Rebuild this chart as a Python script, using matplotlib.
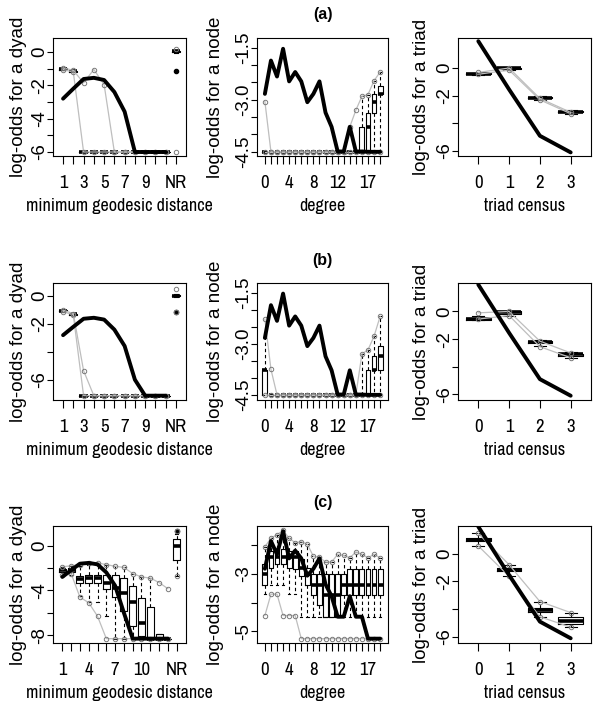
import numpy as np
import matplotlib
matplotlib.use('Agg')
import matplotlib.pyplot as plt

W, H = 598, 707
NARROW = ['Liberation Sans Narrow', 'Archivo Narrow', 'Liberation Sans', 'DejaVu Sans']
REGULAR = ['Liberation Sans', 'DejaVu Sans']
nan = np.nan

# observed network, same in all three rows (nan = log-odds of -Inf, drawn at the panel floor)
obs_dist = [-2.8, -2.2, -1.62, -1.55, -1.68, -2.4, -3.58, -6.0, nan, nan, nan]
obs_dist_c = [-2.8, -2.2, -1.62, -1.55, -1.68, -2.4, -3.58, -6.0, nan, nan, nan, nan, nan]
obs_degree = [-2.83, -1.87, -2.33, -1.53, -2.47, -2.20, -2.47, -3.07, -2.83, -2.47,
              -3.37, -3.78, -4.49, -4.49, -3.78, -4.49, -4.49, nan, nan, nan]
obs_triad = [1.94, -1.55, -4.9, -6.1]

dist_floor = [-6.0, -7.15, -8.3]
deg_floor = [-4.5, -4.5, -5.25]

dist_labels_ab = ['1', '', '3', '', '5', '', '7', '', '9', '', '', 'NR']
dist_labels_c = ['1', '', '', '4', '', '', '7', '', '', '10', '', '', '', 'NR']
deg_labels = ['0', '', '', '', '4', '', '', '', '8', '', '', '', '12', '', '', '', '', '17', '', '']
triad_labels = ['0', '1', '2', '3']

# simulated boxes: (lower whisker, q1, median, q3, upper whisker)
# ---- row (a)
a_dist_box = [(-1.05, -1.05, -1.0, -0.97, -0.95), (-1.2, -1.18, -1.15, -1.12, -1.1),
              (-6, -6, -6, -6, -6), (-6, -6, -6, -6, -6), (-6, -6, -6, -6, -6),
              (-6, -6, -6, -6, -6), (-6, -6, -6, -6, -6), (-6, -6, -6, -6, -6),
              (-6, -6, -6, -6, -6), (-6, -6, -6, -6, -6), (-6, -6, -6, -6, -6),
              (-0.05, 0.0, 0.05, 0.08, 0.12)]
a_dist_fliers = {12: [-1.15]}
a_dist_lo = [-1.05, -1.2, -6, -6, -6, -6, -6, -6, -6, -6, -6, -6]
a_dist_hi = [-0.95, -1.1, -1.85, -1.05, -1.95, -6, -6, -6, -6, -6, -6, 0.2]

a_deg_box = [
    (-4.5, -4.5, -4.5, -4.5, -4.5), (-4.5, -4.5, -4.5, -4.5, -4.5), (-4.5, -4.5, -4.5, -4.5, -4.5),
    (-4.5, -4.5, -4.5, -4.5, -4.5), (-4.5, -4.5, -4.5, -4.5, -4.5), (-4.5, -4.5, -4.5, -4.5, -4.5),
    (-4.5, -4.5, -4.5, -4.5, -4.5), (-4.5, -4.5, -4.5, -4.5, -4.5), (-4.5, -4.5, -4.5, -4.5, -4.5),
    (-4.5, -4.5, -4.5, -4.5, -4.5), (-4.5, -4.5, -4.5, -4.5, -4.5), (-4.5, -4.5, -4.5, -4.5, -4.5),
    (-4.5, -4.5, -4.5, -4.5, -4.5), (-4.5, -4.5, -4.5, -4.5, -4.5), (-4.5, -4.5, -4.5, -4.5, -4.5),
    (-4.5, -4.5, -4.5, -4.5, -4.5), (-4.5, -4.5, -4.5, -3.78, -2.9), (-4.5, -4.5, -3.78, -3.37, -2.85),
    (-4.5, -3.37, -3.07, -2.83, -2.45), (-4.5, -2.83, -2.83, -2.6, -2.2)]
a_deg_lo = [-4.5, -4.5, -4.5, -4.5, -4.5, -4.5, -4.5, -4.5, -4.5, -4.5,
            -4.5, -4.5, -4.5, -4.5, -4.5, -4.5, -4.5, -4.5, -4.5, -4.5]
a_deg_hi = [-3.05, -4.5, -4.5, -4.5, -4.5, -4.5, -4.5, -4.5, -4.5, -4.5,
            -4.5, -4.5, -4.5, -4.5, -3.78, -3.3, -2.9, -2.85, -2.45, -2.2]

a_tri_box = [(-0.5, -0.45, -0.42, -0.38, -0.35), (-0.15, -0.05, 0.0, 0.02, 0.05),
             (-2.3, -2.2, -2.15, -2.12, -2.05), (-3.3, -3.2, -3.15, -3.1, -3.05)]
a_tri_lo = [-0.45, -0.15, -2.3, -3.3]
a_tri_hi = [-0.32, 0.0, -2.2, -3.2]

# ---- row (b)
b_dist_box = [(-1.1, -1.08, -1.05, -1.02, -1.0), (-1.35, -1.32, -1.3, -1.28, -1.25),
              (-7.15, -7.15, -7.15, -7.15, -7.15), (-7.15, -7.15, -7.15, -7.15, -7.15),
              (-7.15, -7.15, -7.15, -7.15, -7.15), (-7.15, -7.15, -7.15, -7.15, -7.15),
              (-7.15, -7.15, -7.15, -7.15, -7.15), (-7.15, -7.15, -7.15, -7.15, -7.15),
              (-7.15, -7.15, -7.15, -7.15, -7.15), (-7.15, -7.15, -7.15, -7.15, -7.15),
              (-7.15, -7.15, -7.15, -7.15, -7.15), (-0.05, 0.0, 0.05, 0.1, 0.15)]
b_dist_fliers = {12: [-1.15]}
b_dist_lo = [-1.1, -1.35, -7.15, -7.15, -7.15, -7.15, -7.15, -7.15, -7.15, -7.15, -7.15, -1.15]
b_dist_hi = [-1.0, -1.25, -5.35, -7.15, -7.15, -7.15, -7.15, -7.15, -7.15, -7.15, -7.15, 0.55]

b_deg_box = [
    (-4.5, -4.5, -3.78, -3.78, -2.83), (-4.5, -4.5, -4.5, -4.5, -4.5), (-4.5, -4.5, -4.5, -4.5, -4.5),
    (-4.5, -4.5, -4.5, -4.5, -4.5), (-4.5, -4.5, -4.5, -4.5, -4.5), (-4.5, -4.5, -4.5, -4.5, -4.5),
    (-4.5, -4.5, -4.5, -4.5, -4.5), (-4.5, -4.5, -4.5, -4.5, -4.5), (-4.5, -4.5, -4.5, -4.5, -4.5),
    (-4.5, -4.5, -4.5, -4.5, -4.5), (-4.5, -4.5, -4.5, -4.5, -4.5), (-4.5, -4.5, -4.5, -4.5, -4.5),
    (-4.5, -4.5, -4.5, -4.5, -4.5), (-4.5, -4.5, -4.5, -4.5, -4.5), (-4.5, -4.5, -4.5, -4.5, -4.5),
    (-4.5, -4.5, -4.5, -4.5, -4.5), (-4.5, -4.5, -4.5, -4.5, -3.3), (-4.5, -4.5, -4.5, -3.78, -3.18),
    (-4.5, -3.78, -3.78, -3.37, -2.78), (-4.5, -3.78, -3.37, -3.07, -2.2)]
b_deg_lo = [-4.5, -4.5, -4.5, -4.5, -4.5, -4.5, -4.5, -4.5, -4.5, -4.5,
            -4.5, -4.5, -4.5, -4.5, -4.5, -4.5, -4.5, -4.5, -4.5, -4.5]
b_deg_hi = [-2.28, -3.75, -4.5, -4.5, -4.5, -4.5, -4.5, -4.5, -4.5, -4.5,
            -4.5, -4.5, -4.5, -4.5, -4.5, -4.5, -3.3, -3.18, -2.78, -2.2]

b_tri_box = [(-0.65, -0.6, -0.55, -0.5, -0.3), (-0.3, -0.15, -0.05, 0.0, 0.05),
             (-2.5, -2.3, -2.2, -2.15, -2.05), (-3.35, -3.2, -3.1, -3.05, -2.95)]
b_tri_lo = [-0.55, -0.3, -2.55, -3.35]
b_tri_hi = [-0.1, 0.0, -2.15, -3.0]

# ---- row (c)
c_dist_box = [(-2.7, -2.4, -2.2, -2.05, -1.9), (-2.6, -2.35, -2.2, -2.0, -1.8),
              (-4.5, -3.3, -3.0, -2.7, -1.8), (-5.0, -3.3, -2.9, -2.65, -1.7),
              (-5.0, -3.3, -2.9, -2.6, -1.6), (-6.3, -3.9, -3.3, -2.65, -1.7),
              (-8.3, -4.6, -3.8, -2.6, -1.85), (-8.3, -5.8, -4.2, -2.9, -1.95),
              (-8.3, -7.2, -5.0, -3.6, -2.5), (-8.3, -8.1, -6.9, -4.7, -2.8),
              (-8.3, -8.3, -8.3, -5.5, -2.9), (-8.3, -8.3, -8.3, -7.9, -7.9),
              (-8.3, -8.3, -8.3, -8.3, -8.3), (-2.7, -1.3, 0.0, 0.6, 1.0)]
c_dist_fliers = {14: [1.3]}
c_dist_lo = [-2.6, -2.5, -4.6, -5.1, -6.3, -8.3, -8.3, -8.3, -8.3, -8.3, -8.3, -8.3, -8.3, -2.7]
c_dist_hi = [-1.9, -1.8, -1.7, -1.6, -1.55, -1.7, -1.85, -1.95, -2.5, -2.8, -2.9, -3.3, -3.85, 1.3]

c_deg_box = [
    (-3.7, -3.38, -3.0, -2.67, -2.07), (-3.38, -2.8, -2.43, -2.2, -1.77), (-3.38, -2.67, -2.43, -2.13, -1.65),
    (-3.38, -2.67, -2.43, -2.13, -1.5), (-3.7, -2.8, -2.43, -2.2, -1.77), (-3.7, -2.85, -2.43, -2.2, -1.93),
    (-4.5, -3.08, -2.79, -2.5, -1.89), (-4.5, -3.38, -3.0, -2.79, -1.98), (-4.5, -3.74, -3.38, -3.0, -2.4),
    (-4.5, -4.1, -3.38, -3.0, -2.43), (-4.5, -4.49, -3.74, -3.0, -2.6), (-4.5, -4.49, -3.74, -3.0, -2.6),
    (-4.5, -4.49, -3.74, -3.0, -2.33), (-4.5, -3.74, -3.38, -3.0, -2.37), (-4.5, -3.74, -3.38, -2.85, -2.45),
    (-4.5, -3.74, -3.38, -2.85, -2.25), (-4.5, -3.74, -3.38, -2.85, -2.33), (-4.5, -3.74, -3.38, -2.85, -2.45),
    (-4.5, -3.74, -3.38, -2.85, -2.33), (-4.5, -3.74, -3.38, -2.85, -2.45)]
c_deg_lo = [-4.45, -3.71, -3.71, -4.45, -4.45, -4.45, -5.25, -5.25, -5.25, -5.25,
            -5.25, -5.25, -5.25, -5.25, -5.25, -5.25, -5.25, -5.25, -5.25, -5.25]
c_deg_hi = [-2.07, -1.77, -1.65, -1.5, -1.77, -1.93, -1.89, -1.98, -2.4, -2.43,
            -2.6, -2.6, -2.33, -2.37, -2.45, -2.25, -2.33, -2.45, -2.33, -2.45]

c_tri_box = [(0.55, 0.9, 1.0, 1.12, 1.45), (-1.64, -1.25, -1.16, -1.05, -0.8),
             (-4.55, -4.2, -4.07, -3.9, -3.45), (-5.3, -5.05, -4.85, -4.6, -4.25)]
c_tri_lo = [0.55, -1.64, -4.55, -5.3]
c_tri_hi = [1.45, -0.8, -3.45, -4.25]


def draw(ax, x, boxes, lo, hi, obs, floor=None, fliers=None, nline=None):
    fliers = fliers or {}
    stats = []
    for xi, (w0, q1, md, q3, w1) in zip(x, boxes):
        stats.append(dict(whislo=w0, q1=q1, med=md, q3=q3, whishi=w1, fliers=fliers.get(xi, [])))
    ax.bxp(stats, positions=x, widths=0.8, capwidths=0.4, manage_ticks=False,
           boxprops=dict(color='k', lw=0.8),
           medianprops=dict(color='k', lw=2.6, solid_capstyle='butt'),
           whiskerprops=dict(color='k', lw=0.8, ls=(0, (3, 2.5))),
           capprops=dict(color='k', lw=0.8),
           flierprops=dict(marker='o', ms=3, mfc='k', mec='k'))
    n = nline or len(x)
    for bound in (lo, hi):
        ax.plot(x[:n], bound[:n], color='#bebebe', lw=0.9, zorder=3)
        ax.plot(x, bound, 'o', ms=3.2, mfc='none', mec='#7a7a7a', mew=0.7, zorder=3)
    y = np.array(obs, dtype=float)
    if floor is not None:
        y = np.where(np.isnan(y), floor, y)
    ax.plot(x[:len(y)], y, color='k', lw=2.8, solid_joinstyle='round', solid_capstyle='round', zorder=4)


def style(ax, x, xlabels, yticks, ylabels, ylim):
    n = len(x)
    ax.set_xlim(x[0] - 0.5 - 0.04 * n, x[-1] + 0.5 + 0.04 * n)
    ax.set_ylim(ylim)
    ax.set_xticks(x)
    ax.set_xticklabels(xlabels, fontfamily=NARROW, fontsize=13.5)
    ax.set_yticks(yticks)
    ax.set_yticklabels(ylabels, rotation=90, va='center', fontfamily=REGULAR, fontsize=13.5)
    ax.tick_params(axis='x', length=5.4, width=0.8, pad=8, direction='out')
    ax.tick_params(axis='y', length=4.3, width=0.8, pad=-1, direction='out')
    for s in ax.spines.values():
        s.set_linewidth(0.8)


fig = plt.figure(figsize=(W / 100, H / 100), dpi=100)

cols = [(53, 186), (257, 388), (458, 591)]
rows = [(38, 156), (283, 400), (526, 643)]
ylab_x = [19, 215, 421]


def make_ax(r, c):
    x0, x1 = cols[c]
    t, b = rows[r]
    return fig.add_axes([x0 / W, 1 - b / H, (x1 - x0) / W, (b - t) / H])


pos12 = list(range(1, 13))
pos14 = list(range(1, 15))
pos_deg = list(range(20))
pos_tri = list(range(4))

dist_sets = [(pos12, dist_labels_ab, a_dist_box, a_dist_lo, a_dist_hi, a_dist_fliers, obs_dist,
              [0, -1, -2, -3, -4, -5, -6], ['0', '', '-2', '', '-4', '', '-6'], (-6.24, 0.84)),
             (pos12, dist_labels_ab, b_dist_box, b_dist_lo, b_dist_hi, b_dist_fliers, obs_dist,
              [0, -2, -4, -6], ['0', '-2', '', '-6'], (-7.46, 0.95)),
             (pos14, dist_labels_c, c_dist_box, c_dist_lo, c_dist_hi, c_dist_fliers, obs_dist_c,
              [0, -2, -4, -6, -8], ['0', '', '-4', '', '-8'], (-8.69, 1.74))]
deg_yt = [-1.5, -2.0, -2.5, -3.0, -3.5, -4.0, -4.5]
deg_yl = ['-1.5', '', '', '-3.0', '', '', '-4.5']
deg_sets = [(a_deg_box, a_deg_lo, a_deg_hi, deg_yt, deg_yl, (-4.62, -1.22)),
            (b_deg_box, b_deg_lo, b_deg_hi, deg_yt, deg_yl, (-4.65, -1.22)),
            (c_deg_box, c_deg_lo, c_deg_hi, [-2, -3, -4, -5], ['', '-3', '', '-5'], (-5.4, -1.35))]
tri_sets = [(a_tri_box, a_tri_lo, a_tri_hi, (-6.36, 2.17)),
            (b_tri_box, b_tri_lo, b_tri_hi, (-6.41, 2.06)),
            (c_tri_box, c_tri_lo, c_tri_hi, (-6.44, 1.99))]
titles = ['(a)', '(b)', '(c)']

for r in range(3):
    t, b = rows[r]
    yc = 1 - (t + b) / 2 / H

    # geodesic distance
    pos, xl, box, lo, hi, fl, obs, yt, yl, ylim = dist_sets[r]
    ax = make_ax(r, 0)
    draw(ax, pos, box, lo, hi, obs, dist_floor[r], fl, nline=len(pos) - 1)
    style(ax, pos, xl, yt, yl, ylim)

    # degree
    box, lo, hi, yt, yl, ylim = deg_sets[r]
    ax = make_ax(r, 1)
    draw(ax, pos_deg, box, lo, hi, obs_degree, deg_floor[r])
    style(ax, pos_deg, deg_labels, yt, yl, ylim)

    # triad census
    box, lo, hi, ylim = tri_sets[r]
    ax = make_ax(r, 2)
    draw(ax, pos_tri, box, lo, hi, obs_triad)
    style(ax, pos_tri, triad_labels, [0, -2, -4, -6], ['0', '-2', '', '-6'], ylim)

    for c, (txt, xt) in enumerate(zip(['minimum geodesic distance', 'degree', 'triad census'],
                                       ['log-odds for a dyad', 'log-odds for a node', 'log-odds for a triad'])):
        x0, x1 = cols[c]
        fig.text((x0 + x1) / 2 / W, 1 - (b + 50) / H, txt, ha='center', va='center',
                 fontfamily=NARROW, fontsize=13)
        fig.text(ylab_x[c] / W, yc, xt, rotation=90, ha='center', va='center',
                 fontfamily=REGULAR, fontsize=13.5)

    fig.text((cols[1][0] + cols[1][1]) / 2 / W, 1 - (t - 23) / H, titles[r], ha='center', va='center',
             fontfamily=REGULAR, fontsize=11.5, fontweight='bold')

fig.savefig('out.png', dpi=100)
